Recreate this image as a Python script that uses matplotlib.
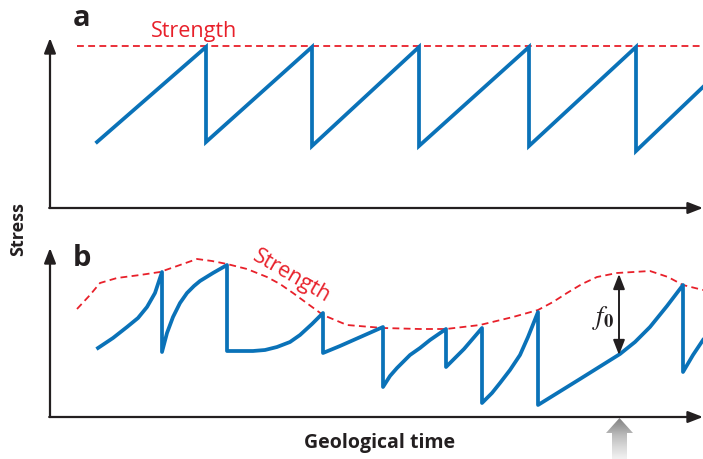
import numpy as np
import matplotlib.pyplot as plt
from matplotlib.patches import Polygon

# panel a: regular stick-slip (pixel-like units, y grows downward)
a_time = [97, 206, 206, 312, 312, 419, 419, 529, 529, 636, 636, 703]
a_stress = [142, 47, 142, 47, 146, 47, 146, 47, 146, 47, 151, 87]
a_strength_time = [77, 703]
a_strength = [46, 46]

# panel b: irregular stress history with varying strength
b_time = [98, 113, 127, 138, 147, 155, 162,
          162, 167, 173, 180, 187, 194, 200, 213, 227,
          227, 253, 265, 277, 290, 300, 312, 323,
          323, 340, 383,
          383, 390, 397, 404, 410, 420, 430, 446,
          446, 464, 482,
          482, 492, 500, 510, 520, 528, 538,
          538, 580, 620, 635, 650, 667, 683,
          683, 693, 703]
b_stress = [348, 338, 327, 318, 307, 293, 272,
            352, 333, 317, 303, 293, 286, 281, 273, 265,
            351, 351, 350, 347, 342, 335, 324, 313,
            353, 346, 327,
            387, 376, 368, 361, 355, 348, 340, 329,
            367, 349, 328,
            403, 393, 383, 370, 355, 337, 312,
            405, 379, 354, 342, 327, 306, 285,
            372, 355, 340]
b_strength_time = [77, 90, 100, 117, 140, 160, 180, 197, 212, 227, 247, 267, 280,
                   293, 308, 323, 347, 383, 420, 446, 480, 513, 538, 553, 567,
                   582, 597, 617, 650, 668, 683, 703]
b_strength = [309, 295, 283, 278, 275, 272, 265, 259, 261, 264, 269, 277, 284,
              293, 304, 315, 325, 328, 329, 329, 325, 317, 310, 302, 293,
              284, 277, 273, 271, 277, 285, 290]

blue = '#0a72b8'
red = '#e8202a'
dark = '#231f20'
font = 'Open Sans'

fig = plt.figure(figsize=(7.03, 4.59), dpi=100)
ax = fig.add_axes([0, 0, 1, 1])
ax.set_xlim(0, 703)
ax.set_ylim(459, 0)
ax.axis('off')

# axes with arrow heads
for y0, y1 in [(208, 38), (417, 248)]:
    ax.annotate('', xy=(50, y1), xytext=(50, y0),
                arrowprops=dict(arrowstyle='-|>,head_length=0.9,head_width=0.35',
                                color=dark, lw=1.6, shrinkA=0, shrinkB=0))
    ax.annotate('', xy=(703, y0), xytext=(49.2, y0),
                arrowprops=dict(arrowstyle='-|>,head_length=0.9,head_width=0.35',
                                color=dark, lw=1.6, shrinkA=0, shrinkB=0))

# panel a
ax.plot(a_strength_time, a_strength, color=red, lw=1.3, dashes=(3.8, 2.4))
ax.plot(a_time, a_stress, color=blue, lw=2.7, solid_joinstyle='miter')
ax.text(194, 32, 'Strength', color=red, fontsize=15.5, family=font,
        ha='center', va='center')
ax.text(73, 19, 'a', fontsize=21, fontweight='bold', family=font,
        ha='left', va='center', color=dark)

# panel b
ax.plot(b_strength_time, b_strength, color=red, lw=1.3, dashes=(3.8, 2.4))
ax.plot(b_time, b_stress, color=blue, lw=2.7, solid_joinstyle='round')
ax.text(292, 276, 'Strength', color=red, fontsize=15.5, family=font,
        ha='center', va='center', rotation=-30, rotation_mode='anchor')
ax.text(73, 258, 'b', fontsize=21, fontweight='bold', family=font,
        ha='left', va='center', color=dark)

# f0 double arrow
ax.annotate('', xy=(619, 274), xytext=(619, 355),
            arrowprops=dict(arrowstyle='<|-|>,head_length=0.9,head_width=0.35',
                            color=dark, lw=1.4, shrinkA=0, shrinkB=0))
ax.text(603, 318, r'$f_{\mathbf{0}}$', fontsize=19, ha='center', va='center',
        color=dark, math_fontfamily='stix')

# grey gradient arrow
arrow = Polygon([(606, 433), (619.5, 418), (633, 433), (627, 433),
                 (627, 459), (612, 459), (612, 433)], closed=True,
                facecolor='none', edgecolor='none')
ax.add_patch(arrow)
grad = np.linspace(0, 1, 100).reshape(-1, 1)
im = ax.imshow(grad, extent=(604, 635, 459, 417), cmap='Greys_r',
               vmin=-0.9, vmax=1.25, aspect='auto', zorder=2)
im.set_clip_path(arrow)

# labels
ax.text(18, 229, 'Stress', fontsize=13, fontweight='bold', family=font,
        rotation=90, ha='center', va='center', color=dark)
ax.text(380, 443, 'Geological time', fontsize=14, fontweight='bold',
        family=font, ha='center', va='center', color=dark)

fig.savefig('out.png', dpi=100)
